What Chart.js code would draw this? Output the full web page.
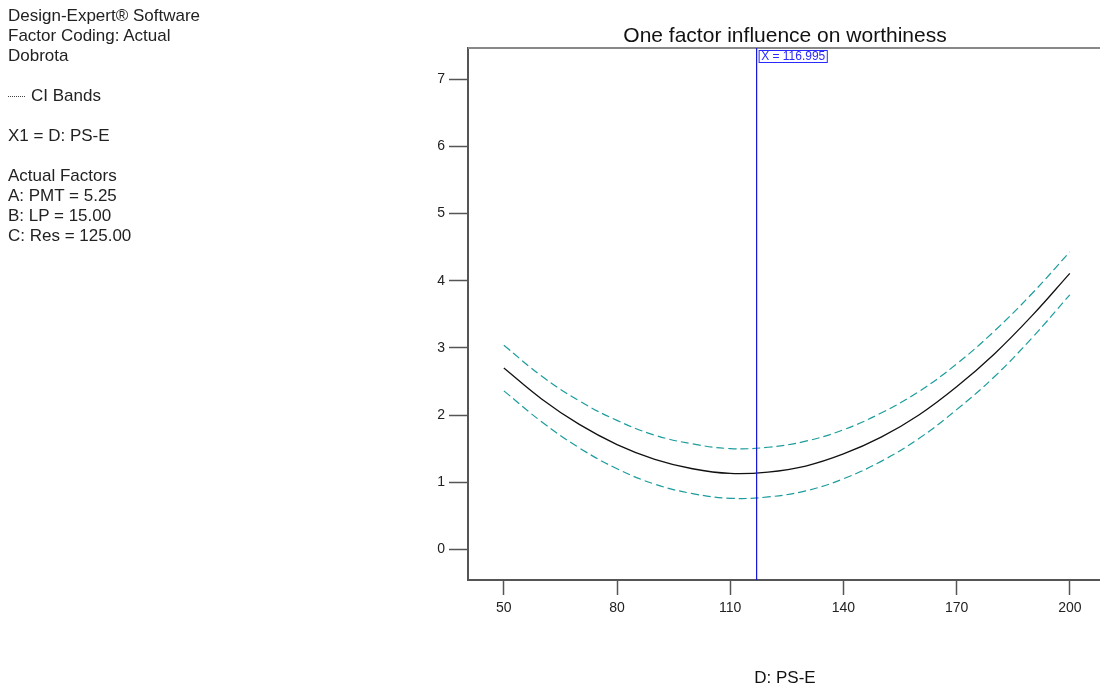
<!DOCTYPE html>
<html>
<head>
<meta charset="utf-8">
<script src="https://cdn.jsdelivr.net/npm/chart.js@4/dist/chart.umd.min.js"></script>
<style>
  body { margin: 0; background: #fff; }
  #wrap { position: relative; width: 1100px; height: 686px; }
  #info { position: absolute; left: 8px; top: 6px; font: 17px "Liberation Sans", Arial, sans-serif; line-height: 20px; color: #222; white-space: pre; }
  .dots { display: inline-block; width: 17px; border-top: 1px dotted #444; vertical-align: middle; margin-right: 6px; }
</style>
</head>
<body>
<div id="wrap">
  <canvas id="oneFactor" width="1100" height="686"></canvas>
  <div id="info">Design-Expert® Software
Factor Coding: Actual
Dobrota

<span class="dots"></span>CI Bands

X1 = D: PS-E

Actual Factors
A: PMT = 5.25
B: LP = 15.00
C: Res = 125.00</div>
</div>
<script>
// values
let xValues = [50, 60, 70, 80, 90, 100, 110, 120, 130, 140, 150, 160, 170, 180, 190, 200];
let meanValues = [2.70, 2.24, 1.86, 1.56, 1.34, 1.20, 1.13, 1.15, 1.24, 1.42, 1.67, 2.00, 2.42, 2.91, 3.48, 4.11];
let upperValues = [3.04, 2.58, 2.21, 1.92, 1.70, 1.57, 1.50, 1.52, 1.61, 1.78, 2.03, 2.35, 2.76, 3.25, 3.81, 4.43];
let lowerValues = [2.36, 1.90, 1.51, 1.20, 0.97, 0.83, 0.76, 0.78, 0.87, 1.05, 1.31, 1.65, 2.08, 2.57, 3.15, 3.79];
let xTicks = [50, 80, 110, 140, 170, 200];
let yTicks = [0, 1, 2, 3, 4, 5, 6, 7];
let cursorX = 116.995;

let chartTitle = "One factor influence on worthiness";
let xTitle = "D: PS-E";

let toPoints = function(ys) {
    let pts = [];
    for (let i = 0; i < xValues.length; i++) {
        pts.push({x: xValues[i], y: ys[i]});
    }
    return pts;
};

let fontFamily = '"Liberation Sans", Arial, sans-serif';
let teal = '#1c9c9c';

let extras = {
    id: 'extras',
    afterDatasetsDraw: function(chart) {
        let c = chart.ctx;
        let a = chart.chartArea;
        let px = chart.scales.x.getPixelForValue(cursorX);
        c.save();
        // top frame line
        c.strokeStyle = '#888';
        c.lineWidth = 2;
        c.beginPath();
        c.moveTo(a.left, a.top);
        c.lineTo(a.right, a.top);
        c.stroke();
        // cursor line
        c.strokeStyle = '#1414d8';
        c.lineWidth = 1.2;
        c.beginPath();
        c.moveTo(px, a.top);
        c.lineTo(px, a.bottom);
        c.stroke();
        // cursor label
        let label = 'X = ' + cursorX.toFixed(3);
        c.font = '12px ' + fontFamily;
        let w = c.measureText(label).width;
        c.fillStyle = '#fff';
        c.fillRect(px + 2, a.top + 2, w + 4, 12);
        c.strokeStyle = '#2a2aff';
        c.lineWidth = 1;
        c.strokeRect(px + 2.5, a.top + 2.5, w + 4, 12);
        c.fillStyle = '#2a2aff';
        c.textBaseline = 'middle';
        c.textAlign = 'left';
        c.fillText(label, px + 4.5, a.top + 9);
        // titles
        c.fillStyle = '#111';
        c.textAlign = 'center';
        c.font = '21px ' + fontFamily;
        c.fillText(chartTitle, (a.left + a.right) / 2 + 1, 36);
        c.font = '17px ' + fontFamily;
        c.fillText(xTitle, (a.left + a.right) / 2 + 1, 678);
        c.restore();
    }
};

let ctx = document.getElementById('oneFactor').getContext('2d');

let oneFactorChart = new Chart(ctx, {
    type: 'line',
    data: {
        datasets: [{
            label: 'Upper CI',
            data: toPoints(upperValues),
            borderColor: teal,
            borderWidth: 1.2,
            borderDash: [8, 4],
            pointRadius: 0,
            tension: 0.4,
            fill: false
        }, {
            label: 'Worthiness',
            data: toPoints(meanValues),
            borderColor: '#111',
            borderWidth: 1.3,
            pointRadius: 0,
            tension: 0.4,
            fill: false
        }, {
            label: 'Lower CI',
            data: toPoints(lowerValues),
            borderColor: teal,
            borderWidth: 1.2,
            borderDash: [8, 4],
            pointRadius: 0,
            tension: 0.4,
            fill: false
        }]
    },
    options: {
        responsive: false,
        animation: false,
        layout: {padding: {top: 48, right: 0, left: 0, bottom: 0}},
        plugins: {
            legend: {display: false},
            tooltip: {enabled: false},
            title: {display: false}
        },
        scales: {
            x: {
                type: 'linear',
                min: 40.5,
                max: 208,
                afterBuildTicks: function(s) { s.ticks = xTicks.map(v => ({value: v})); },
                afterFit: function(s) { s.height = 106; },
                grid: {drawOnChartArea: false, tickLength: 15, tickColor: '#555', tickWidth: 1.5},
                border: {display: true, color: '#555', width: 2},
                ticks: {color: '#222', padding: 5, font: {family: fontFamily, size: 14}, maxRotation: 0}
            },
            y: {
                min: -0.457,
                max: 7.466,
                afterBuildTicks: function(s) { s.ticks = yTicks.map(v => ({value: v})); },
                afterFit: function(s) { s.width = 468; },
                grid: {drawOnChartArea: false, tickLength: 19, tickColor: '#555', tickWidth: 1.5},
                border: {display: true, color: '#555', width: 2},
                ticks: {color: '#222', padding: 4, font: {family: fontFamily, size: 14}}
            }
        }
    },
    plugins: [extras]
});
</script>
</body>
</html>
